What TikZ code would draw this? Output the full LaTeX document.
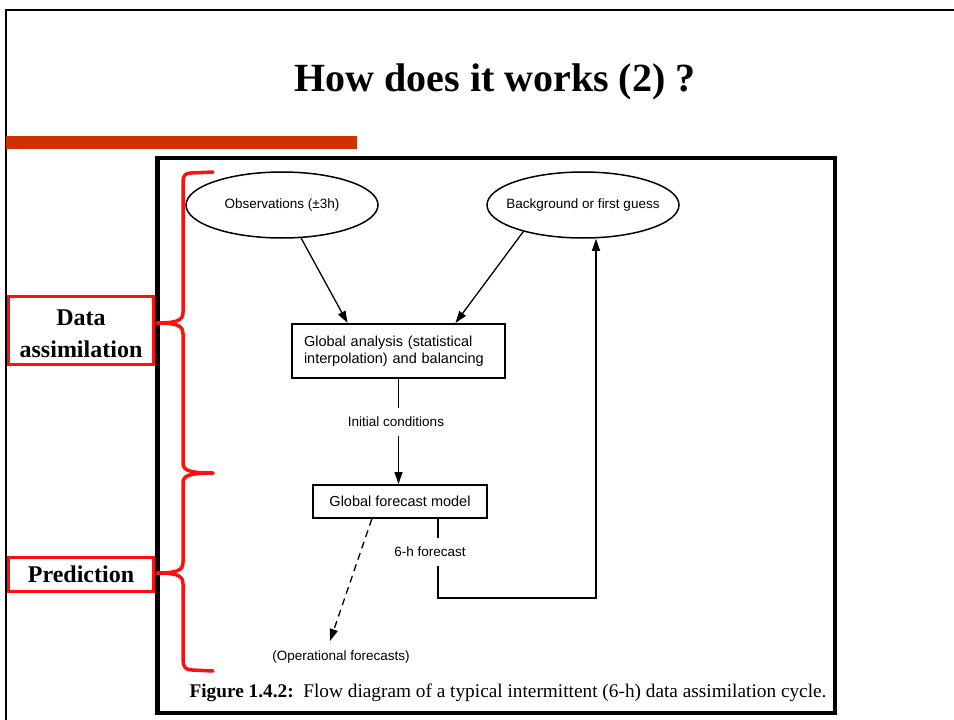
\documentclass[tikz,border=0pt]{standalone}
\usepackage{fontspec}
\setmainfont{Liberation Serif}
\newfontfamily\figsans{Liberation Sans}
\usetikzlibrary{shapes.geometric,arrows.meta,calc}
\definecolor{barorange}{HTML}{CC3300}
\definecolor{bracered}{HTML}{FF1010}
\begin{document}
\begin{tikzpicture}[x=1pt,y=-1pt,
  ell/.style={draw,ellipse,line width=1.5pt,minimum width=192pt,minimum height=66pt,inner sep=0pt,font=\figsans\fontsize{13.5}{16}\selectfont},
  boxnode/.style={draw,line width=2pt,inner sep=0pt,font=\figsans\fontsize{14.5}{17}\selectfont},
  lbl/.style={inner sep=0pt,minimum height=27pt,font=\figsans\fontsize{13.5}{16}\selectfont},
  conn/.style={line width=1.3pt},
  arr/.style={conn,-{Triangle[length=12pt,width=8pt]}},
  redbox/.style={draw=bracered,line width=3pt,inner sep=0pt,align=center,font=\bfseries\fontsize{24}{32}\selectfont},
  bracestyle/.style={draw=bracered,line width=3.5pt,line cap=round,line join=round}]
\useasboundingbox (0,0) rectangle (954,720);
\fill[white] (0,0) rectangle (954,720);
% slide frame
\draw[line width=2.5pt] (6,720) -- (6,10) -- (954,10);
\node[font=\bfseries\fontsize{40}{48}\selectfont] (title) at (495,82) {How does it works (2) ?};
\fill[barorange] (6,136) rectangle (357,149);
% figure frame
\draw[line width=4.5pt] (157.5,158) rectangle (835,713);
% nodes
\node[ell] (obs) at (282,205) {\makebox[0pt]{Observations (\textpm3h)}};
\node[ell] (bg) at (583,205) {\makebox[0pt]{Background or first guess}};
\node[boxnode,minimum width=213pt,minimum height=54pt,text width=189pt,align=left] (ana) at (398.5,351) {Global analysis (statistical\\interpolation) and balancing};
\node[lbl] (ic) at (396,422) {Initial conditions};
\node[boxnode,minimum width=174pt,minimum height=33pt] (fc) at (400,501.5) {Global forecast model};
\node[lbl] (h6) at (430,552) {6-h forecast};
\node[lbl] (op) at (341,657) {(Operational forecasts)};
\coordinate (opin) at (330,641);
\coordinate (c1) at (438,598);
\coordinate (c2) at (596,598);
% connectors
\draw[arr] (obs.-60) -- ($(ana.north west)!0.263!(ana.north east)$);
\draw[arr] (bg.-156) -- ($(ana.north west)!0.765!(ana.north east)$);
\draw[conn] (ana.south) -- (ana.south |- ic.north);
\draw[arr] (ana.south |- ic.south) -- (ana.south |- fc.north);
\draw[arr,dashed,dash pattern=on 7pt off 5pt] ($(fc.south west)!0.34!(fc.south east)$) -- (opin);
\draw[conn] (fc.south -| c1) -- (h6.north -| c1);
\draw[arr] (h6.south -| c1) -- (c1) -- (c2) -- (c2 |- bg.south);
% caption
\node[font=\fontsize{19.3}{22}\selectfont] (cap) at (508,693) {\textbf{Figure 1.4.2:}\ \ Flow diagram of a typical intermittent (6-h) data assimilation cycle.};
% braces
\draw[bracestyle] (213,172) -- (191,173) .. controls (185,173) and (183,176) .. (183,182)
  -- (183,312) .. controls (183,320) and (178,323) .. (157,323)
  .. controls (178,323) and (183,326) .. (183,334)
  -- (183,463) .. controls (183,470) and (188,473) .. (213,473);
\draw[bracestyle] (213,473) .. controls (188,473) and (183,476) .. (183,483)
  -- (183,562) .. controls (183,570) and (178,573) .. (157,573)
  .. controls (178,573) and (183,576) .. (183,584)
  -- (183,660) .. controls (183,667) and (186,670) .. (192,670) -- (213,671);
% red label boxes
\draw[draw=bracered,line width=3pt] (8.5,296) rectangle (153.5,364);
\node[redbox,draw=none,yshift=-3.5pt] (da) at (81,330) {Data\\assimilation};
\node[redbox,minimum width=145pt,minimum height=34pt] (pr) at (81,574) {Prediction};
\end{tikzpicture}
\end{document}
